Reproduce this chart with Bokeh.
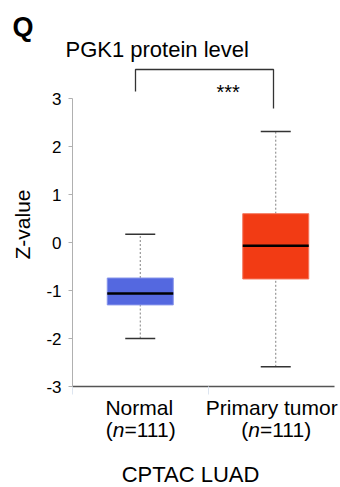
import math
from bokeh.plotting import figure
from bokeh.layouts import column
from bokeh.models import Range1d, ColumnDataSource, FixedTicker
from bokeh.core.properties import value
from bokeh.embed import file_html
from bokeh.resources import INLINE

# ---- data ----
categories = ["Normal", "Primary tumor"]
n_values = [111, 111]
lower_whisker = [-2.00, -2.59]
q1 = [-1.30, -0.76]
median = [-1.06, -0.07]
q3 = [-0.74, 0.60]
upper_whisker = [0.17, 2.31]
y_ticks = [-3, -2, -1, 0, 1, 2, 3]
title_text = "PGK1 protein level"
panel_letter = "Q"
y_label = "Z-value"
dataset_label = "CPTAC LUAD"
signif = "***"

# ---- styles ----
fill_colors = ["#5468e0", "#f23b14"]
edge_colors = ["#8593ea", "#f5775c"]
FONT = "Liberation Sans"

W = 340
TOP_H = 62           # header strip (letter + title)
MAIN_H = 334         # plot with axes
BOT_H = 487 - TOP_H - MAIN_H
LEFT, RIGHT = 72, 6
PX_PER_X = 135.5
PX_PER_Y = 48.0
Y_BOTTOM = -3.0
MAIN_BOTTOM_BORDER = 10
frame_h = MAIN_H - MAIN_BOTTOM_BORDER
Y_TOP = Y_BOTTOM + frame_h / PX_PER_Y
X_END = (W - LEFT - RIGHT) / PX_PER_X
MID = 0.33   # baseline -> visual middle offset (fraction of font size)


def px2x(px):
    return (px - LEFT) / PX_PER_X


def py2y(py):  # global page y -> main-plot data y
    return Y_TOP - (py - TOP_H) / PX_PER_Y


def blank_strip(height, x_range, y0, y1):
    f = figure(width=W, height=height, output_backend="svg", toolbar_location=None,
               x_range=x_range, y_range=Range1d(y0, y1),
               x_axis_location=None, y_axis_location=None,
               min_border=0, frame_align=False)
    f.outline_line_color = None
    f.xgrid.visible = False
    f.ygrid.visible = False
    f.background_fill_color = "white"
    f.border_fill_color = "white"
    return f


# ---------------- header ----------------
top = blank_strip(TOP_H, Range1d(0, W), TOP_H, 0)
top.text(x=[12], y=[35 - MID * 27], text=[panel_letter], text_font=value(FONT),
         text_font_size="27px", text_font_style="bold", text_color="black",
         text_baseline="middle")
top.text(x=[65], y=[56 - MID * 22], text=[title_text], text_font=value(FONT),
         text_font_size="22px", text_color="black", text_baseline="middle")

# ---------------- main plot ----------------
xs = [i + 0.5 for i in range(len(categories))]
src = ColumnDataSource(dict(
    x=xs, q1=q1, q3=q3, med=median, lo=lower_whisker, hi=upper_whisker,
    fill=fill_colors, edge=edge_colors,
))

p = figure(width=W, height=MAIN_H, output_backend="svg", toolbar_location=None,
           x_range=Range1d(0, X_END), y_range=Range1d(Y_BOTTOM, Y_TOP),
           min_border_left=LEFT, min_border_right=RIGHT,
           min_border_top=0, min_border_bottom=MAIN_BOTTOM_BORDER,
           frame_align=False)
p.outline_line_color = None
p.xgrid.visible = False
p.ygrid.visible = False
p.background_fill_color = "white"
p.border_fill_color = "white"

yax = p.yaxis[0]
yax.ticker = FixedTicker(ticks=y_ticks)
yax.bounds = (min(y_ticks), max(y_ticks))
yax.major_label_overrides = {t: str(t) for t in y_ticks}
yax.axis_line_color = "#b0b0b0"
yax.axis_line_width = 1
yax.major_tick_line_color = "#b0b0b0"
yax.major_tick_out = 4
yax.major_tick_in = 0
yax.minor_tick_line_color = None
yax.major_label_standoff = 7
yax.major_label_text_font = FONT
yax.major_label_text_font_size = "17px"
yax.major_label_text_color = "black"
yax.axis_label = y_label
yax.axis_label_text_font = FONT
yax.axis_label_text_font_size = "21px"
yax.axis_label_text_font_style = "normal"
yax.axis_label_text_color = "black"
yax.axis_label_standoff = 9

xax = p.xaxis[0]
xax.ticker = FixedTicker(ticks=[0, 1])
xax.major_label_overrides = {0: "", 1: ""}
xax.major_label_text_font_size = "0px"
xax.major_label_standoff = 0
xax.axis_line_color = "#555555"
xax.axis_line_width = 1.5
xax.major_tick_line_color = "#dde5f0"
xax.major_tick_out = 8
xax.major_tick_in = 0
xax.minor_tick_line_color = None

# whiskers (dashed) and caps
p.segment(x0="x", y0="q3", x1="x", y1="hi", source=src,
          line_color="#808080", line_dash="2 2", line_width=1)
p.segment(x0="x", y0="lo", x1="x", y1="q1", source=src,
          line_color="#808080", line_dash="2 2", line_width=1)
cap_half = 15 / PX_PER_X
cap_src = ColumnDataSource(dict(
    x0=[x - cap_half for x in xs] * 2, x1=[x + cap_half for x in xs] * 2,
    y=upper_whisker + lower_whisker))
p.segment(x0="x0", y0="y", x1="x1", y1="y", source=cap_src,
          line_color="#333333", line_width=1.5)

# boxes + medians
box_w = 66 / PX_PER_X
p.vbar(x="x", bottom="q1", top="q3", width=box_w, source=src,
       fill_color="fill", line_color="edge", line_width=1)
p.segment(x0=[x - box_w / 2 for x in xs], y0=median,
          x1=[x + box_w / 2 for x in xs], y1=median,
          line_color="black", line_width=2.5)

# significance bracket
bx0, bx1 = px2x(135), px2x(273)
p.line(x=[bx0, bx0, bx1, bx1], y=[py2y(91), py2y(69), py2y(69), py2y(108)],
       line_color="#333333", line_width=1.3)
p.text(x=[px2x(216)], y=[py2y(80)], text=[signif], text_font=value(FONT),
       text_font_size="20px", text_color="black", text_baseline="top")

# ---------------- category labels + dataset label ----------------
BOT_Y0 = TOP_H + MAIN_H
bot = blank_strip(BOT_H, Range1d(px2x(0), px2x(W)), BOT_H, 0)


def by(py, size):
    return py - BOT_Y0 - MID * size


size = 21
label_shift = [-1, -4]
for name, n, x, sh in zip(categories, n_values, xs, label_shift):
    bot.text(x=[x + sh / PX_PER_X], y=[by(414, size)], text=[name], text_font=value(FONT),
             text_font_size=f"{size}px", text_align="center",
             text_baseline="middle", text_color="black")
    rest = f"={n})"
    w_open = 0.333 * size
    w_n = 0.556 * size
    w_rest = (0.584 + 0.556 * len(str(n)) + 0.333) * size
    total = w_open + w_n + w_rest
    start = x + (2 - total / 2) / PX_PER_X
    parts = [("(", 0.0, "normal"), ("n", w_open, "italic"), (rest, w_open + w_n, "normal")]
    for txt, off, style in parts:
        bot.text(x=[start + off / PX_PER_X], y=[by(436, size)], text=[txt],
                 text_font=value(FONT), text_font_size=f"{size}px",
                 text_font_style=style, text_baseline="middle",
                 text_color="black")

bot.text(x=[px2x(190)], y=[by(481, 22)], text=[dataset_label], text_font=value(FONT),
         text_font_size="22px", text_align="center", text_baseline="middle",
         text_color="black")

layout = column(top, p, bot, spacing=0)
open("out.html", "w").write(file_html(layout, INLINE))
